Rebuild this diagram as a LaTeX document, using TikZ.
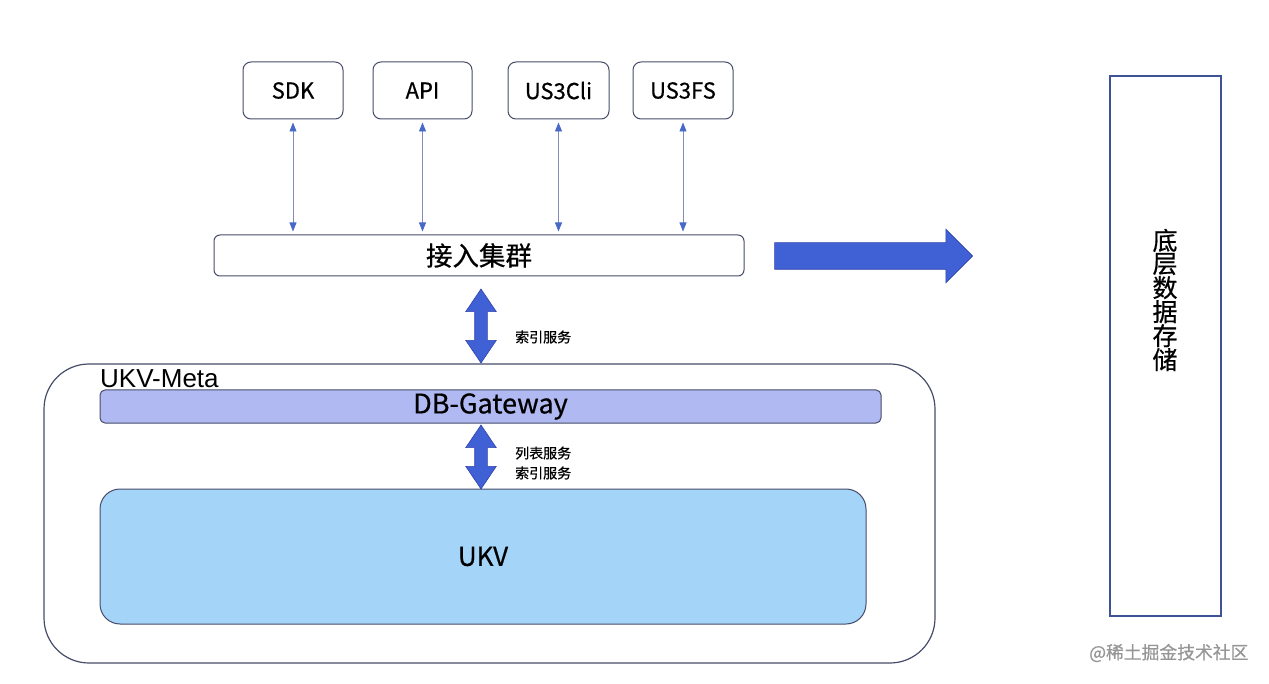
\documentclass[tikz,border=0pt]{standalone}
\usepackage{fontspec}
\setmainfont{Noto Sans CJK SC}[FakeBold=0.6]
\newfontfamily\arialfont{Liberation Sans}
\usetikzlibrary{arrows.meta,shapes.arrows,calc}
\definecolor{edge}{RGB}{70,76,105}
\definecolor{gwfill}{RGB}{176,185,241}
\definecolor{ukvfill}{RGB}{164,212,248}
\definecolor{bigblue}{RGB}{64,96,214}
\definecolor{bigedge}{RGB}{48,68,168}
\definecolor{thinline}{RGB}{130,140,185}
\definecolor{headblue}{RGB}{72,105,200}
\definecolor{storeedge}{RGB}{62,82,150}
\definecolor{wm}{RGB}{150,150,150}
\tikzset{
  client/.style={draw=edge, line width=1pt, rounded corners=8pt, minimum width=100pt, minimum height=57pt, font=\fontsize{22}{26}\selectfont, inner sep=0pt},
  cluster/.style={draw=edge, line width=1pt, rounded corners=6pt, minimum width=530pt, minimum height=41pt, font=\fontsize{26.5}{30}\selectfont, inner sep=0pt},
  thinarrow/.style={draw=thinline, line width=0.7pt, {Triangle[width=7pt,length=9pt,fill=headblue,color=headblue]}-{Triangle[width=7pt,length=9pt,fill=headblue,color=headblue]}, shorten <=3pt, shorten >=3pt},
  bigdarrow/.style={double arrow, draw=bigedge, fill=bigblue, line width=0.6pt, double arrow tip angle=68, double arrow head extend=9pt, inner xsep=0pt, inner ysep=6pt, minimum width=30pt, rotate=90, anchor=center},
  svclabel/.style={font=\fontsize{14}{20}\selectfont, align=left, anchor=west, inner sep=0pt},
}
\begin{document}
\begin{tikzpicture}[x=1pt,y=-1pt]
\useasboundingbox (0,0) rectangle (1269,684);
% clients
\node[client] (sdk) at (293,90.5) {SDK};
\node[client, minimum width=99pt] (api) at (422.5,90.5) {API};
\node[client, minimum width=101pt] (cli) at (558.5,90.5) {US3Cli};
\node[client] (fs) at (683,90.5) {US3FS};
% access cluster
\node[cluster] (jr) at (479,255.5) {接入集群};
\foreach \c in {sdk,api,cli,fs}
  \draw[thinarrow] (\c.south) -- (\c.south |- jr.north);
% big right arrow
\node[single arrow, draw=bigedge, fill=bigblue, line width=0.6pt, single arrow head extend=13.5pt, single arrow tip angle=90, inner xsep=0pt, inner ysep=13pt, minimum height=198pt, minimum width=53pt, anchor=center] (bigr) at (867,256) {};
% storage
\node[draw=storeedge, line width=1.4pt, minimum width=111pt, minimum height=540pt, inner sep=0pt] (store) at (1165.5,346) {};
\node[font=\fontsize{25}{21.6}\selectfont, align=center, inner sep=0pt] (storetext) at (1165,300) {底\\层\\数\\据\\存\\储};
% UKV-Meta outer box
\node[draw=edge, line width=1.2pt, rounded corners=45pt, minimum width=891pt, minimum height=299pt, inner sep=0pt] (meta) at (489.5,513.5) {};
\node[font=\arialfont\fontsize{26}{28}\selectfont, anchor=base west, inner sep=0pt] (metalabel) at (100,388) {UKV-Meta};
% DB-Gateway
\node[draw=edge, fill=gwfill, line width=1pt, rounded corners=5pt, minimum width=781pt, minimum height=33pt, inner sep=0pt, font=\fontsize{27}{30}\selectfont] (gw) at (490.5,406.5) {DB-Gateway};
% UKV
\node[draw=edge, fill=ukvfill, line width=1pt, rounded corners=20pt, minimum width=766pt, minimum height=135pt, inner sep=0pt, font=\fontsize{26}{30}\selectfont] (ukv) at (483,556.5) {UKV};
% big double arrows
\node[bigdarrow, minimum height=74pt] (a1) at (481,326) {};
\node[svclabel] (l1) at (515,337) {索引服务};
\node[bigdarrow, minimum height=64pt] (a2) at (481,457) {};
\node[svclabel] (l2) at (515,463) {列表服务\\索引服务};
% watermark
\node[font=\fontsize{17.8}{20}\selectfont, text=wm, anchor=west, inner sep=0pt] (wmark) at (1089,653) {@稀土掘金技术社区};
\end{tikzpicture}
\end{document}
